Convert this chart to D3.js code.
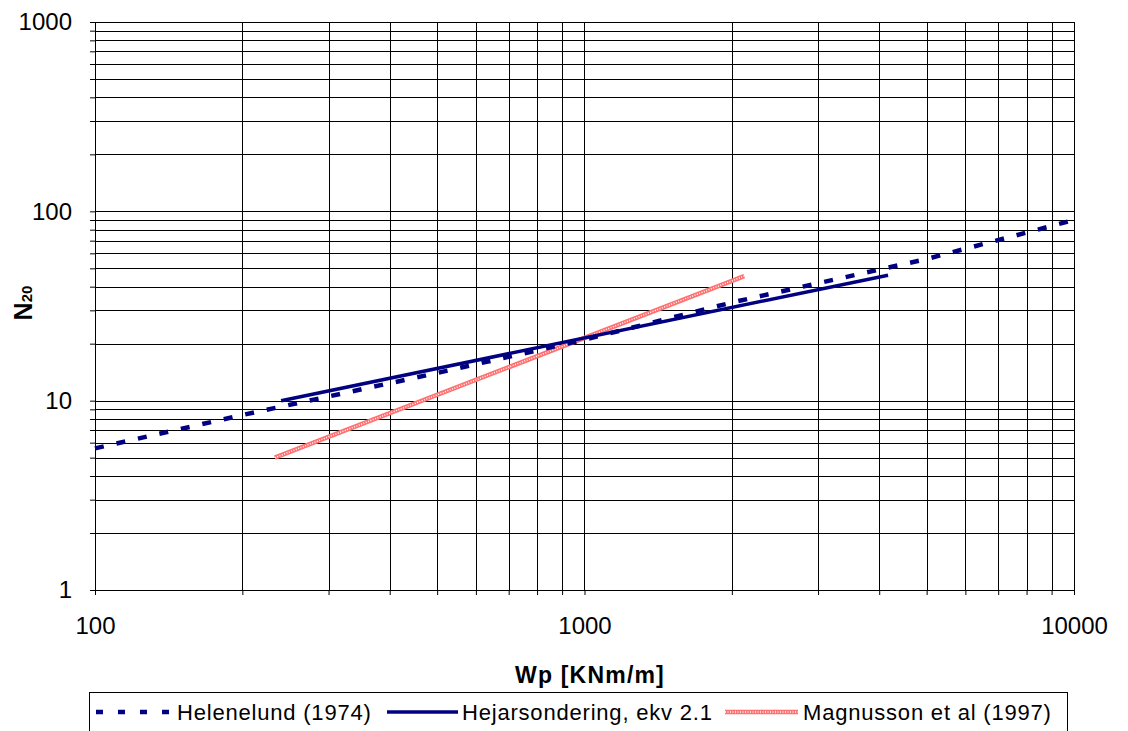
<!DOCTYPE html>
<html>
<head>
<meta charset="utf-8">
<title>N20 vs Wp</title>
<script src="https://d3js.org/d3.v7.min.js"></script>
<style>
  body { margin: 0; background: #fff; }
  svg { font-family: "Liberation Sans", Arial, sans-serif; }
  .axis path { stroke: #000; }
  .axis line { stroke: #000; }
  .grid line { stroke: #000; stroke-width: 1; shape-rendering: crispEdges; }
</style>
</head>
<body>
<script>
// data (Wp [KNm/m], N20)
var helenelundW = [100, 200, 500, 1000, 2000, 5000, 10000];
var helenelundN = [5.6, 8.4, 14, 21, 33, 56, 90];
var hejarW = [240, 4170];
var hejarN = [10, 46];
var magnussonW = [233, 2120];
var magnussonN = [5, 45.5];
var seriesNames = ["Helenelund (1974)", "Hejarsondering, ekv 2.1", "Magnusson et al (1997)"];
var xDecades = [100, 1000, 10000];
var yDecades = [1, 10, 100, 1000];

var width = 1128, height = 731;
var plot = {left: 95, top: 22, right: 1074, bottom: 590};

var svg = d3.select("body").append("svg")
  .attr("width", width).attr("height", height);

var x = d3.scaleLog().domain([100, 10000]).range([plot.left, plot.right]);
var y = d3.scaleLog().domain([1, 1000]).range([plot.bottom, plot.top]);

function minorTicks(decades) {
  var out = [];
  for (var i = 0; i < decades.length - 1; i++) {
    for (var k = 1; k < 10; k++) out.push(decades[i] * k);
  }
  out.push(decades[decades.length - 1]);
  return out;
}
var xTicks = minorTicks(xDecades);
var yTicks = minorTicks(yDecades);

// grid
var grid = svg.append("g").attr("class", "grid");
grid.selectAll(".vx").data(xTicks).enter().append("line")
  .attr("x1", function(d){ return Math.round(x(d)) + 0.5; })
  .attr("x2", function(d){ return Math.round(x(d)) + 0.5; })
  .attr("y1", plot.top).attr("y2", plot.bottom);
grid.selectAll(".hy").data(yTicks).enter().append("line")
  .attr("y1", function(d){ return Math.round(y(d)) + 0.5; })
  .attr("y2", function(d){ return Math.round(y(d)) + 0.5; })
  .attr("x1", plot.left).attr("x2", plot.right);

// axes
var xAxis = d3.axisBottom(x).tickValues(xTicks).tickSize(5).tickSizeOuter(0).tickPadding(22)
  .tickFormat(function(d){ return xDecades.indexOf(d) >= 0 ? String(d) : ""; });
var yAxis = d3.axisLeft(y).tickValues(yTicks).tickSize(5).tickSizeOuter(0).tickPadding(18)
  .tickFormat(function(d){ return yDecades.indexOf(d) >= 0 ? String(d) : ""; });

svg.append("g").attr("class", "axis")
  .attr("transform", "translate(0," + plot.bottom + ")")
  .call(xAxis)
  .selectAll("text").attr("font-size", 24).attr("fill", "#000").attr("font-family", "Liberation Sans, Arial, sans-serif");
svg.append("g").attr("class", "axis")
  .attr("transform", "translate(" + plot.left + ",0)")
  .call(yAxis)
  .selectAll("text").attr("font-size", 24).attr("fill", "#000").attr("font-family", "Liberation Sans, Arial, sans-serif");

// frame
svg.append("rect").attr("x", plot.left + 0.5).attr("y", plot.top + 0.5)
  .attr("width", plot.right - plot.left).attr("height", plot.bottom - plot.top)
  .attr("fill", "none").attr("stroke", "#000").attr("shape-rendering", "crispEdges");

// lines
var line = d3.line().x(function(d){ return x(d[0]); }).y(function(d){ return y(d[1]); });
var helen = d3.zip(helenelundW, helenelundN);
var hejar = d3.zip(hejarW, hejarN);
var magn = d3.zip(magnussonW, magnussonN);

svg.append("path").datum(magn).attr("d", line)
  .attr("fill", "none").attr("stroke", "#ff7070").attr("stroke-width", 4.5);
svg.append("path").datum(magn).attr("d", line)
  .attr("fill", "none").attr("stroke", "#fff").attr("stroke-width", 1.5).attr("stroke-dasharray", "1,1.5");

svg.append("path").datum(hejar).attr("d", line)
  .attr("fill", "none").attr("stroke", "#000080").attr("stroke-width", 3.5);

svg.append("path").datum(helen).attr("d", line)
  .attr("fill", "none").attr("stroke", "#000080").attr("stroke-width", 4.5)
  .attr("stroke-dasharray", "9,13");

// axis titles
svg.append("text").attr("x", 590).attr("y", 683)
  .attr("text-anchor", "middle").attr("font-size", 23).attr("font-weight", "bold")
  .attr("letter-spacing", 1.2)
  .text("Wp [KNm/m]");

var yt = svg.append("text")
  .attr("transform", "translate(32,303) rotate(-90)")
  .attr("text-anchor", "middle").attr("font-size", 25).attr("font-weight", "bold");
yt.append("tspan").text("N");
yt.append("tspan").attr("font-size", 15).text("20");

// legend
var lg = svg.append("g");
lg.append("rect").attr("x", 89.5).attr("y", 692.5).attr("width", 978).attr("height", 50)
  .attr("fill", "#fff").attr("stroke", "#000");
var legendItems = [
  {x0: 96, x1: 172, tx: 177, stroke: "#000080", w: 4.5, dash: "7,15", red: false},
  {x0: 387, x1: 458, tx: 462, stroke: "#000080", w: 3.5, dash: null, red: false},
  {x0: 725, x1: 798, tx: 803, stroke: "#ff7070", w: 4.5, dash: null, red: true}
];
legendItems.forEach(function(it, i){
  var ly = 712;
  var l = lg.append("line").attr("x1", it.x0).attr("x2", it.x1).attr("y1", ly).attr("y2", ly)
    .attr("stroke", it.stroke).attr("stroke-width", it.w);
  if (it.dash) l.attr("stroke-dasharray", it.dash);
  if (it.red) {
    lg.append("line").attr("x1", it.x0).attr("x2", it.x1).attr("y1", ly).attr("y2", ly)
      .attr("stroke", "#fff").attr("stroke-width", 1.5).attr("stroke-dasharray", "1,1.5");
  }
  lg.append("text").attr("x", it.tx).attr("y", 720).attr("font-size", 22)
    .attr("letter-spacing", 0.8).text(seriesNames[i]);
});
</script>
</body>
</html>
